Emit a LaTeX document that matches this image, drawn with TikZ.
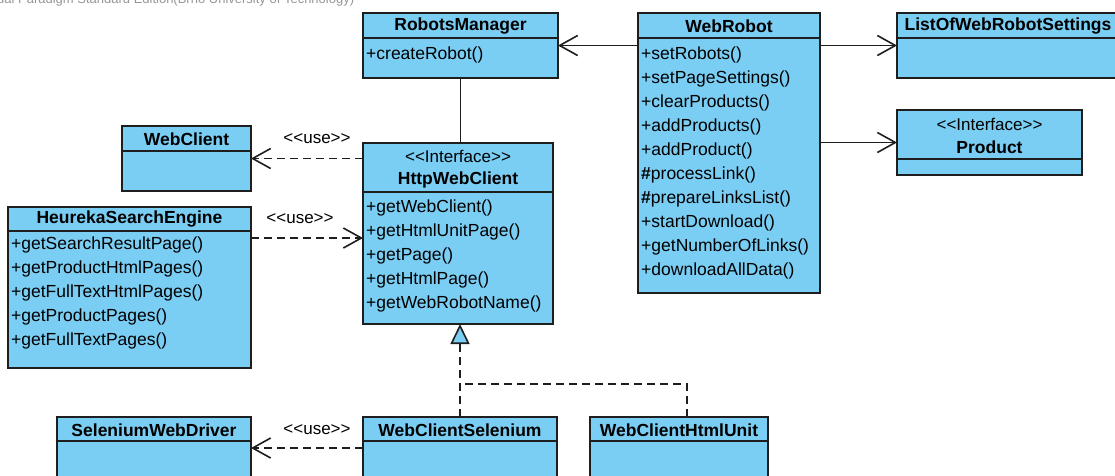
\documentclass[tikz,border=0pt]{standalone}
\usepackage{fontspec}
\setmainfont{Liberation Sans}
\usetikzlibrary{arrows.meta,calc}
\definecolor{clsblue}{RGB}{122,206,244}
\definecolor{wmgray}{RGB}{150,150,150}
\definecolor{edge}{RGB}{30,30,30}
\newcommand{\stq}[1]{<{}<#1>{}>}
\begin{document}
\begin{tikzpicture}[x=1pt,y=-1pt,
  cls/.style={draw=edge, fill=clsblue, line width=1.6pt, anchor=north west, inner sep=0, outer sep=0},
  divl/.style={draw=edge, line width=1.6pt},
  cname/.style={font=\fontsize{17.5}{20}\selectfont\bfseries, inner sep=0},
  stereo/.style={font=\fontsize{17}{20}\selectfont, inner sep=0},
  op/.style={font=\fontsize{17.5}{20}\selectfont, anchor=west, inner sep=0},
  lbl/.style={font=\fontsize{17}{20}\selectfont, inner sep=0},
  plain/.style={draw=edge, line width=1.6pt},
  assoc/.style={plain, -{Straight Barb[length=18pt,width=20pt]}},
  dep/.style={plain, dash pattern=on 8pt off 5pt, -{Straight Barb[length=18pt,width=20pt]}},
  dashl/.style={plain, dash pattern=on 8pt off 5pt},
  real/.style={dashl, -{Triangle[length=20pt,width=19pt,fill=clsblue]}},
]
\useasboundingbox (0,0) rectangle (1115,475);
\clip (0,0) rectangle (1115,475);

% watermark
\node[anchor=base west, font=\fontsize{13}{15}\selectfont, text=wmgray, inner sep=0] (wm) at (-3,3) {ual Paradigm Standard Edition(Brno University of Technology)};

% RobotsManager
\node[cls, minimum width=195, minimum height=65] (rm) at (363,13) {};
\draw[divl] (363,38) -- (558,38);
\node[cname] (rmn) at (460.5,26) {RobotsManager};
\node[op] (rm1) at (366,55) {+createRobot()};

% WebRobot
\node[cls, minimum width=182, minimum height=280] (wr) at (638,13) {};
\draw[divl] (638,38) -- (820,38);
\node[cname] (wrn) at (729,26) {WebRobot};
\foreach \t [count=\i from 0] in {+setRobots(),+setPageSettings(),+clearProducts(),+addProducts(),+addProduct(),\textbf{\#}processLink(),\textbf{\#}prepareLinksList(),+startDownload(),+getNumberOfLinks(),+downloadAllData()}
  \node[op] (wr\i) at (641,55+24*\i) {\t};

% ListOfWebRobotSettings
\node[cls, minimum width=222, minimum height=65] (lw) at (897,13) {};
\draw[divl] (897,38) -- (1119,38);
\node[cname] (lwn) at (1008,26) {ListOfWebRobotSettings};

% Product
\node[cls, minimum width=185, minimum height=65] (pr) at (897,110) {};
\draw[divl] (897,159) -- (1082,159);
\node[stereo] (prs) at (989.5,124) {\stq{Interface}};
\node[cname] (prn) at (989.5,147) {Product};

% WebClient
\node[cls, minimum width=129, minimum height=65] (wc) at (122,126) {};
\draw[divl] (122,151) -- (251,151);
\node[cname] (wcn) at (186.5,139) {WebClient};

% HttpWebClient
\node[cls, minimum width=190, minimum height=181] (hwc) at (363,143) {};
\draw[divl] (363,192) -- (553,192);
\node[stereo] (hwcs) at (458,156) {\stq{Interface}};
\node[cname] (hwcn) at (458,180) {HttpWebClient};
\foreach \t [count=\i from 0] in {+getWebClient(),+getHtmlUnitPage(),+getPage(),+getHtmlPage(),+getWebRobotName()}
  \node[op] (hwc\i) at (366,208+24*\i) {\t};

% HeurekaSearchEngine
\node[cls, minimum width=243, minimum height=161] (he) at (8,207) {};
\draw[divl] (8,231) -- (251,231);
\node[cname] (hen) at (129.5,219) {HeurekaSearchEngine};
\foreach \t [count=\i from 0] in {+getSearchResultPage(),+getProductHtmlPages(),+getFullTextHtmlPages(),+getProductPages(),+getFullTextPages()}
  \node[op] (he\i) at (11,245+24*\i) {\t};

% SeleniumWebDriver
\node[cls, minimum width=194, minimum height=80] (swd) at (57,417) {};
\draw[divl] (57,441) -- (251,441);
\node[cname] (swdn) at (154,430) {SeleniumWebDriver};

% WebClientSelenium
\node[cls, minimum width=194, minimum height=80] (wcs) at (363,417) {};
\draw[divl] (363,441) -- (557,441);
\node[cname] (wcsn) at (460,430) {WebClientSelenium};

% WebClientHtmlUnit
\node[cls, minimum width=178, minimum height=80] (wchu) at (590,417) {};
\draw[divl] (590,441) -- (768,441);
\node[cname] (wchun) at (679,430) {WebClientHtmlUnit};

% connectors
\draw[assoc] (wr.west |- rm.east) -- (rm.east);
\draw[assoc] (wr.east |- lw.west) -- (lw.west);
\draw[assoc] (wr.east |- pr.west) -- (pr.west);
\draw[plain] (rm.south) -- (rm.south |- hwc.north);
\draw[dep] (hwc.west |- wc.east) -- (wc.east);
\draw[dep] ($(he.north east)+(0,31)$) -- ($(hwc.north west)+(0,95)$);
\draw[dep] ($(wcs.north west)+(0,31)$) -- ($(swd.north east)+(0,31)$);
\draw[real] (wcs.north) -- (wcs.north |- hwc.south);
\draw[dashl] ($(wchu.north)+(8,0)$) |- ($(wcs.north)+(0,-33)$);

% labels
\node[lbl] (u1) at (317,139) {\stq{use}};
\node[lbl] (u2) at (300,219) {\stq{use}};
\node[lbl] (u3) at (317,430) {\stq{use}};
\end{tikzpicture}
\end{document}
